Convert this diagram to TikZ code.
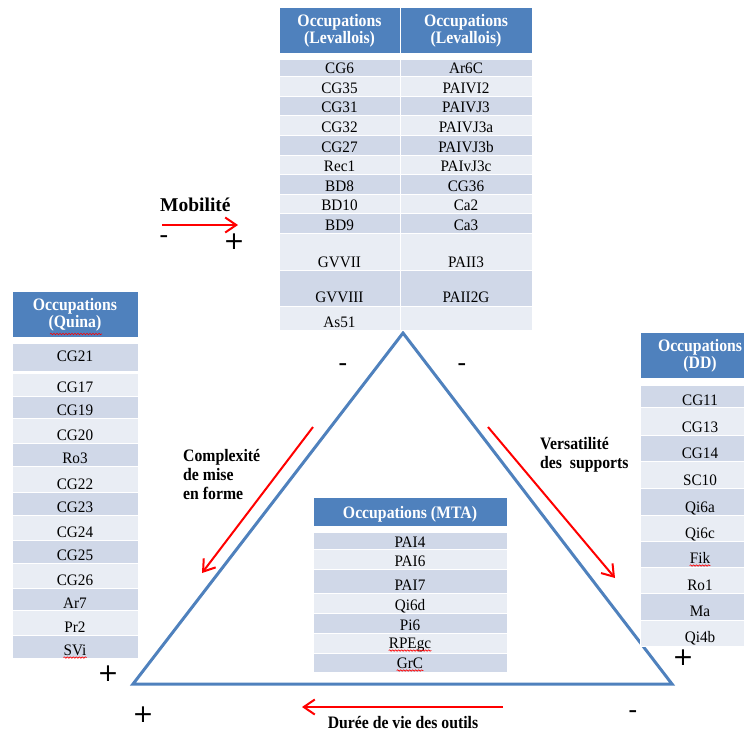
\documentclass[tikz,border=0pt]{standalone}
\usepackage{fontspec}
\setmainfont{Liberation Serif}
\newfontfamily\cellfont{Liberation Serif}[FakeStretch=0.95]
\newfontfamily\headfont{Liberation Serif}[FakeStretch=0.9]
\newfontfamily\signfont{DejaVu Sans}
\usetikzlibrary{arrows.meta,decorations.pathmorphing}
\definecolor{headblue}{HTML}{4F81BD}
\definecolor{rowdark}{HTML}{D0D8E8}
\definecolor{rowlight}{HTML}{E9EDF4}
\definecolor{arrowred}{HTML}{FF0000}
\definecolor{triblue}{HTML}{4F81BD}

\begin{document}
\begin{tikzpicture}[x=1pt,y=-1pt,
  rowA/.style={fill=rowdark,draw=white,line width=1pt},
  rowB/.style={fill=rowlight,draw=white,line width=1pt},
  headbox/.style={fill=headblue,draw=white,line width=1pt},
  cell/.style={anchor=base,inner sep=0pt,text=black,font=\cellfont\fontsize{16}{18}\selectfont},
  headtext/.style={inner sep=0pt,text=white,align=center,font=\headfont\bfseries\fontsize{17.5}{17}\selectfont},
  axislabel/.style={inner sep=0pt,text=black,align=left,font=\headfont\bfseries\fontsize{17.5}{19}\selectfont},
  sign/.style={anchor=base,inner sep=0pt,text=black,font=\signfont\fontsize{25}{25}\selectfont},
  redarrow/.style={draw=arrowred,line width=2pt,-{Straight Barb[length=11pt,width=15pt]}},
  triside/.style={draw=triblue,line width=3pt,line join=miter},
  squig/.style={draw=red,line width=0.6pt,decorate,decoration={snake,amplitude=0.7pt,segment length=3pt}}
]
\useasboundingbox (0,0) rectangle (744,732);

% ---- central triangle ----
\coordinate (apex) at (403,333);
\coordinate (bl) at (133,684);
\coordinate (br) at (672,684);
\draw[triside] (apex) -- (bl) -- (br) -- cycle;

% ---- Levallois table (two columns) ----
\path[headbox] (279,7) rectangle (400,53);
\path[headbox] (400,7) rectangle (532,53);
\node[headtext] (levHL) at (339.5,31) {Occupations\\(Levallois)};
\node[headtext] (levHR) at (466,31) {Occupations\\(Levallois)};
\foreach \t/\b/\y/\l/\r/\f [count=\i] in {
  59/76/73/CG6/Ar6C/rowA,
  76/96/93/CG35/PAIVI2/rowB,
  96/115/112/CG31/PAIVJ3/rowA,
  115/135/132/CG32/PAIVJ3a/rowB,
  135/155/152/CG27/PAIVJ3b/rowA,
  155/174/171/Rec1/PAIvJ3c/rowB,
  174/194/191/BD8/CG36/rowA,
  194/213/210/BD10/Ca2/rowB,
  213/233/230/BD9/Ca3/rowA,
  233/270/267/GVVII/PAII3/rowB,
  270/306/302/GVVIII/PAII2G/rowA,
  306/330/327/As51/{}/rowB}{
  \path[\f] (279,\t) rectangle (400,\b);
  \path[\f] (400,\t) rectangle (532,\b);
  \node[cell] (lvL\i) at (339.5,\y) {\l};
  \node[cell] (lvR\i) at (466,\y) {\r};
}

% ---- Quina table ----
\path[headbox] (12,291) rectangle (138,337);
\node[headtext] (quH) at (75,315) {Occupations\\(Quina)};
\foreach \t/\b/\y/\l/\f [count=\i] in {
  343/371/361/CG21/rowA,
  373/396/392/CG17/rowB,
  396/418/415/CG19/rowA,
  418/443/440/CG20/rowB,
  443/466/463/Ro3/rowA,
  466/492/489/CG22/rowB,
  492/515/512/CG23/rowA,
  515/540/537/CG24/rowB,
  540/563/560/CG25/rowA,
  563/588/585/CG26/rowB,
  588/610/608/Ar7/rowA,
  610/635/632/Pr2/rowB,
  635/658/655/SVi/rowA}{
  \path[\f] (12,\t) rectangle (138,\b);
  \node[cell] (lq\i) at (75,\y) {\l};
}

% ---- DD table ----
\path[headbox] (640,332) rectangle (760,378);
\node[headtext] (ddH) at (700,356) {Occupations\\(DD)};
\foreach \t/\b/\y/\l/\f [count=\i] in {
  385/407/405/CG11/rowA,
  407/435/432/CG13/rowB,
  435/461/458/CG14/rowA,
  461/488/485/SC10/rowB,
  488/515/512/Qi6a/rowA,
  515/541/538/Qi6c/rowB,
  541/567/563/Fik/rowA,
  567/593/590/Ro1/rowB,
  593/620/616/Ma/rowA,
  620/646/642/Qi4b/rowB}{
  \path[\f] (640,\t) rectangle (760,\b);
  \node[cell] (rq\i) at (700,\y) {\l};
}

% ---- MTA table ----
\path[headbox] (313,497) rectangle (507,526);
\node[headtext,anchor=base] (mtaH) at (410,518) {Occupations (MTA)};
\foreach \t/\b/\y/\l/\f [count=\i] in {
  532/549/547/PAI4/rowA,
  549/569/566/PAI6/rowB,
  569/593/590/PAI7/rowA,
  593/613/610/Qi6d/rowB,
  613/633/630/Pi6/rowA,
  633/653/648/RPEgc/rowB,
  653/672/668/GrC/rowA}{
  \path[\f] (313,\t) rectangle (507,\b);
  \node[cell] (mq\i) at (410,\y) {\l};
}

% spell-check marks under some codes
\draw[squig] (50,334) -- (102,334);
\draw[squig] ([yshift=-2.5pt]lq13.base west) -- ([yshift=-2.5pt]lq13.base east);
\draw[squig] ([yshift=-2.5pt]rq7.base west) -- ([yshift=-2.5pt]rq7.base east);
\draw[squig] ([yshift=-2.5pt]mq6.base west) -- ([yshift=-2.5pt]mq6.base east);
\draw[squig] ([yshift=-2.5pt]mq7.base west) -- ([yshift=-2.5pt]mq7.base east);

% ---- axis arrows and labels ----
\node[axislabel,anchor=base west,font=\bfseries\fontsize{19.5}{20}\selectfont] (mob) at (160,211) {Mobilité};
\coordinate (mobS) at (162,225);
\coordinate (mobE) at (238,225);
\draw[redarrow] (mobS) -- (mobE);

\node[axislabel,anchor=north west] (cplx) at (183,449) {Complexité\\de mise\\en forme};
\coordinate (cplxS) at (313,427);
\coordinate (cplxE) at (202,573);
\draw[redarrow] (cplxS) -- (cplxE);

\node[axislabel,anchor=north west] (vers) at (540,437) {Versatilité\\des\ \ supports};
\coordinate (versS) at (488,427);
\coordinate (versE) at (615,578);
\draw[redarrow] (versS) -- (versE);

\node[axislabel,anchor=base] (duree) at (403,728) {Durée de vie des outils};
\coordinate (dureeS) at (503,707);
\coordinate (dureeE) at (302,707);
\draw[redarrow] (dureeS) -- (dureeE);

% ---- plus / minus marks ----
\node[sign] (mobMinus) at (164,243.5) {-};
\node[sign] (mobPlus) at (234,249) {+};
\node[sign] (apexMinusL) at (343,371.5) {-};
\node[sign] (apexMinusR) at (462,371.5) {-};
\node[sign] (blPlusA) at (108,681) {+};
\node[sign] (blPlusB) at (143,722) {+};
\node[sign] (brMinus) at (633,718.5) {-};
\node[sign] (brPlus) at (683,665) {+};
\end{tikzpicture}
\end{document}
